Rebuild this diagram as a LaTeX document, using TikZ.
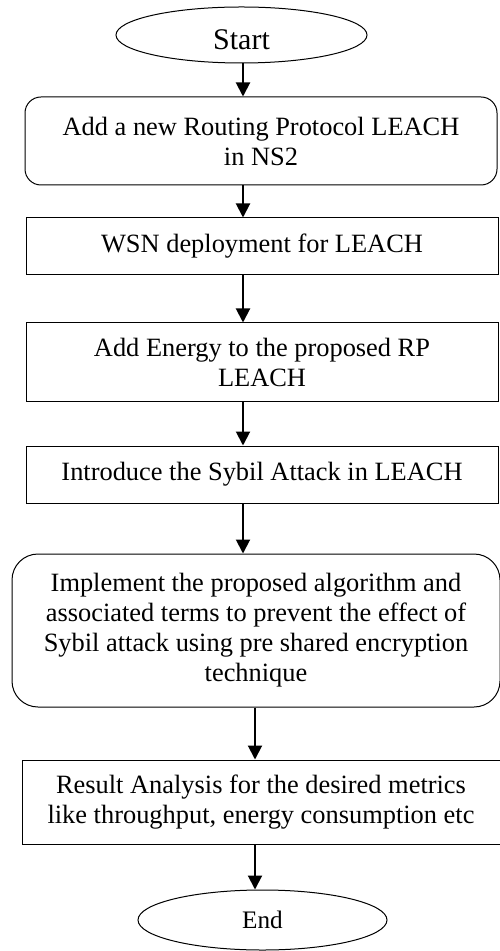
\documentclass[tikz,border=0pt]{standalone}
\usepackage{fontspec}
\setmainfont{Liberation Serif}
\usetikzlibrary{shapes.geometric,arrows.meta}

\tikzset{
  stepbox/.style={draw,line width=0.5pt,align=center,inner sep=0pt,
    font=\fontsize{13.2}{15}\selectfont},
  roundbox/.style={stepbox,rounded corners=8pt},
  endpoint/.style={draw,ellipse,line width=0.5pt,inner sep=0pt},
  flow/.style={line width=1pt,-{Triangle[length=7pt,width=7pt]}}
}

\begin{document}
\begin{tikzpicture}[x=0.5pt,y=-0.5pt]
\useasboundingbox (0,0) rectangle (499,951);
\node[endpoint,minimum width=125.5pt,minimum height=28pt](start) at (241.5,35) {};
\node[font=\fontsize{15}{17}\selectfont](starttext) at (241.5,40) {Start};
\node[roundbox,minimum width=236pt,minimum height=44pt](b1) at (261,141)
  {Add a new Routing Protocol LEACH\\in NS2};
\node[stepbox,minimum width=236pt,minimum height=28.5pt](b2) at (262,246.5)
  {WSN deployment for LEACH};
\node[stepbox,minimum width=236pt,minimum height=39pt](b3) at (262,362)
  {Add Energy to the proposed RP\\LEACH};
\node[stepbox,minimum width=236pt,minimum height=28.5pt](b4) at (262,474.5)
  {Introduce the Sybil Attack in LEACH};
\node[roundbox,rounded corners=13pt,minimum width=244pt,minimum height=76.5pt](b5) at (256,630.5)
  {Implement the proposed algorithm and\\associated terms to prevent the effect of\\Sybil attack using pre shared encryption\\technique};
\node[stepbox,minimum width=239pt,minimum height=42pt](b6) at (261,802)
  {Result Analysis for the desired metrics\\like throughput, energy consumption etc};
\node[endpoint,minimum width=124.5pt,minimum height=30pt,
  font=\fontsize{12.6}{15}\selectfont](end) at (262.5,920) {End};
% arrow columns
\coordinate (ax) at (243,0);
\coordinate (bx) at (255,0);
\draw[flow](ax |- start.south)--(ax |- b1.north);
\draw[flow](ax |- b1.south)--(ax |- b2.north);
\draw[flow](ax |- b2.south)--(ax |- b3.north);
\draw[flow](ax |- b3.south)--(ax |- b4.north);
\draw[flow](ax |- b4.south)--(ax |- b5.north);
\draw[flow](bx |- b5.south)--(bx |- b6.north);
\draw[flow](bx |- b6.south)--(bx |- end.north);
\end{tikzpicture}
\end{document}
